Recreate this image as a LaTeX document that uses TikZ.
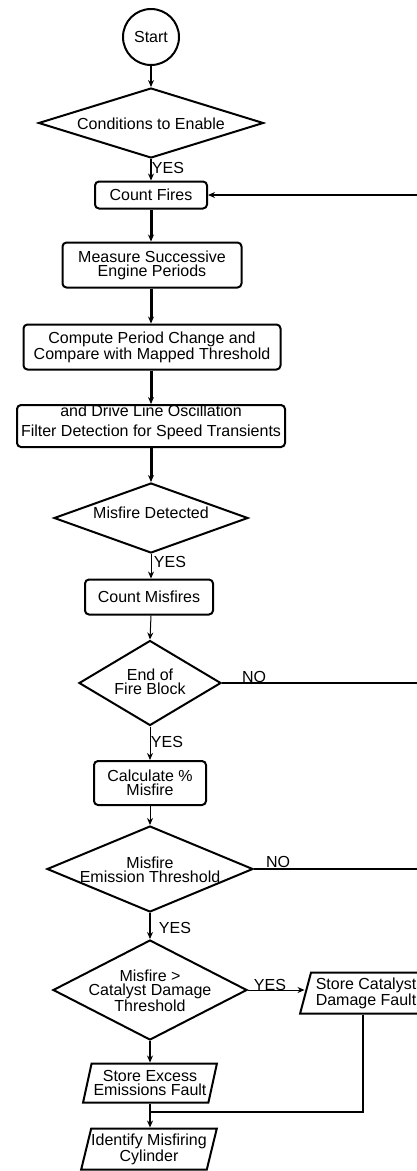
\documentclass[tikz,border=0pt]{standalone}
\usepackage{fontspec}
\setmainfont{Liberation Sans}
\usetikzlibrary{shapes.geometric,arrows.meta}
\begin{document}
\begin{tikzpicture}[x=1pt,y=-1pt,
  lbl/.style={font=\fontsize{16}{14}\selectfont, inner sep=0pt, align=center},
  box/.style={draw, line width=2pt, rounded corners=4pt, inner sep=0pt, lbl},
  dia/.style={draw, diamond, line width=2pt, inner sep=0pt},
  para/.style={draw, trapezium, trapezium left angle=72, trapezium right angle=108,
               trapezium stretches=true, line width=2pt, inner sep=1pt, lbl},
  arr/.style={-{Stealth[length=7pt,width=6pt]}},
  thin/.style={line width=1pt},
  mid/.style={line width=1.5pt},
  thick/.style={line width=3pt},
  fb/.style={line width=2.4pt}
]
\useasboundingbox (0,0) rectangle (417,1171);
\clip (0,0) rectangle (417,1171);

% nodes
\node[draw, circle, line width=2pt, minimum size=56pt, inner sep=0pt, lbl] (start) at (151,37) {Start};
\node[dia, minimum width=225pt, minimum height=70pt] (cond) at (151,123) {};
\node[lbl] (condt) at (151,124) {Conditions to Enable};
\node[box, minimum width=112pt, minimum height=27pt] (fires) at (151,195) {Count Fires};
\node[box, minimum width=179pt, minimum height=45pt] (measure) at (152,265) {Measure Successive\\Engine Periods};
\node[box, minimum width=257pt, minimum height=45pt] (compute) at (152,347) {Compute Period Change and\\Compare with Mapped Threshold};
\node[box, minimum width=268pt, minimum height=42pt] (filter) at (151,426) {};
\node[lbl] (filtert) at (151,422) {and Drive Line Oscillation\\[6pt]Filter Detection for Speed Transients};
\node[dia, minimum width=194pt, minimum height=70pt] (misdet) at (151,518) {};
\node[lbl] (misdett) at (151,513) {Misfire Detected};
\node[box, minimum width=128pt, minimum height=35pt] (cmis) at (149,597) {Count Misfires};
\node[dia, minimum width=142pt, minimum height=85pt] (endb) at (150,683) {};
\node[lbl] (endbt) at (150,682) {End of\\Fire Block};
\node[box, minimum width=112pt, minimum height=44pt] (calc) at (150,783) {Calculate \%\\Misfire};
\node[dia, minimum width=206pt, minimum height=86pt] (emis) at (150,869) {};
\node[lbl] (emist) at (150,870) {Misfire\\Emission Threshold};
\node[dia, minimum width=194pt, minimum height=100pt] (cat) at (150,990) {};
\node[lbl] (catt) at (150,991) {Misfire >\\Catalyst Damage\\Threshold};
\node[para, minimum width=132pt, minimum height=41pt] (storecat) at (366,993) {Store Catalyst\\Damage Fault};
\node[para, minimum width=134pt, minimum height=39pt] (excess) at (150,1083) {Store Excess\\Emissions Fault};
\node[para, minimum width=133pt, minimum height=41pt] (ident) at (149,1149) {Identify Misfiring\\Cylinder};

% coordinates
\coordinate (rfires) at (417,195);
\coordinate (rendb) at (417,683);
\coordinate (remis) at (417,869);
\coordinate (merge) at (150,1112);

% connectors
\draw[arr, mid] (start) -- (cond);
\draw[arr, mid] (cond.south) -- (cond.south |- fires.north);
\node[lbl] (yes1) at (168,168) {YES};
\draw[arr, thick] (fires.south) -- (fires.south |- measure.north);
\draw[arr, thick] (fires.south |- measure.south) -- (fires.south |- compute.north);
\draw[arr, thick] (fires.south |- compute.south) -- (fires.south |- filter.north);
\draw[arr, thick] (filter.south) -- (misdet.north);
\draw[arr, thin] (misdet.south) -- (misdet.south |- cmis.north);
\node[lbl] (yes2) at (170,562) {YES};
\draw[arr, thin] (misdet.south |- cmis.south) -- (endb.north);
\draw[arr, thin] (endb.south) -- (endb.south |- calc.north);
\node[lbl] (yes3) at (167,742) {YES};
\draw[arr, thin] (calc.south) -- (emis.north);
\draw[arr, mid] (emis.south) -- (cat.north);
\node[lbl] (yes4) at (175,928) {YES};
\draw[arr, mid] (cat.south) -- (cat.south |- excess.north);
\draw[arr, mid] (excess.south) -- (excess.south |- ident.north);
\draw[arr, thin] (cat.east) -- (cat.east -| storecat.west);
\node[lbl] (yes5) at (270,985) {YES};
\draw[fb] (storecat.south -| 363,0) |- (merge);
\draw[fb] (endb.east) -- (rendb);
\node[lbl] (no1) at (254,677) {NO};
\draw[fb] (emis.east) -- (remis);
\node[lbl] (no2) at (278,862) {NO};
\draw[arr, line width=2pt] (rfires) -- (fires.east);
\end{tikzpicture}
\end{document}
